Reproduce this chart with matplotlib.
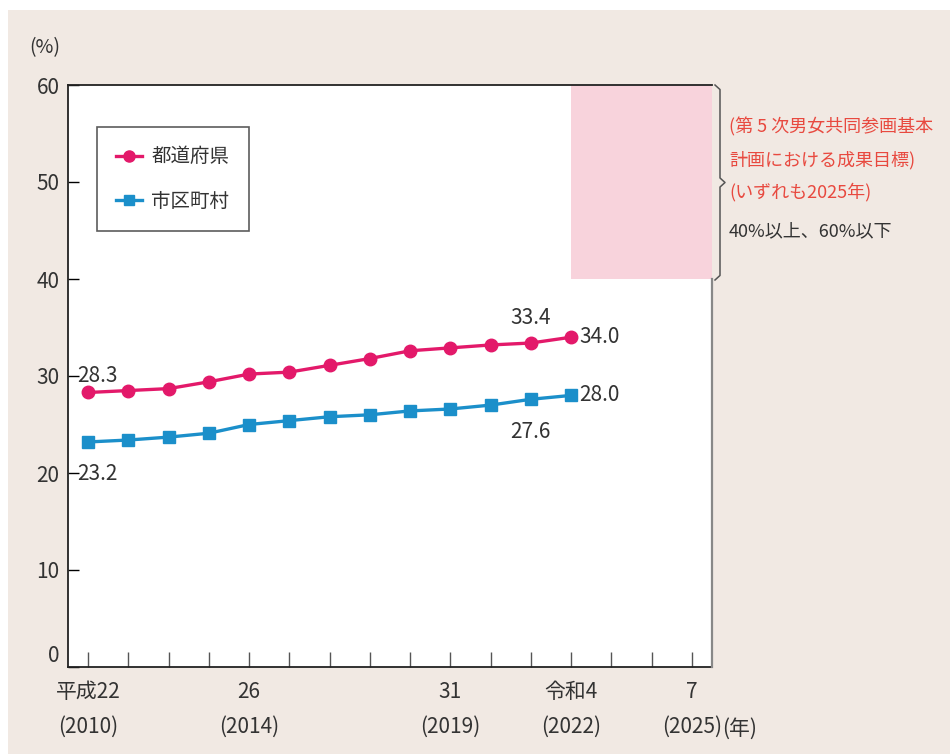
import matplotlib
matplotlib.use("Agg")
import matplotlib.pyplot as plt
from matplotlib.patches import Rectangle
from matplotlib.lines import Line2D

plt.rcParams['font.family'] = ['Noto Sans CJK JP', 'DejaVu Sans']

# data
years = list(range(2010, 2023))
prefectures = [28.3, 28.5, 28.7, 29.4, 30.2, 30.4, 31.1, 31.8, 32.6, 32.9, 33.2, 33.4, 34.0]
municipalities = [23.2, 23.4, 23.7, 24.1, 25.0, 25.4, 25.8, 26.0, 26.4, 26.6, 27.0, 27.6, 28.0]
series_names = ['都道府県', '市区町村']
tick_years = [2010, 2014, 2019, 2022, 2025]
tick_labels = ['平成22\n(2010)', '26\n(2014)', '31\n(2019)', '令和4\n(2022)', '7\n(2025)']
target_low, target_high = 40, 60
target_start = 2022

pink = '#e3196a'
blue = '#1b8fca'
bg = '#f1e9e3'
txt = '#333333'

fig = plt.figure(figsize=(9.5, 7.54), dpi=100)
fig.patch.set_facecolor('white')
fig.patches.append(Rectangle((8 / 950, 0), 1, 1 - 10 / 754, transform=fig.transFigure,
                             facecolor=bg, edgecolor='none', zorder=-10))

ax = fig.add_axes([68 / 950, 87 / 754, 644 / 950, 582 / 754])
ax.set_facecolor('white')
ax.set_xlim(2009.5, 2025.5)
ax.set_ylim(0, 60)

# target band
ax.add_patch(Rectangle((target_start, target_low), 2025.5 - target_start, target_high - target_low,
                       facecolor='#f8d3dc', edgecolor='none', zorder=1))

ax.plot(years, prefectures, color=pink, lw=2.4, marker='o', ms=9, zorder=3)
ax.plot(years, municipalities, color=blue, lw=2.4, marker='s', ms=8, zorder=3)

# value labels
lab = dict(fontsize=15, color=txt)
ax.text(2009.72, prefectures[0] + 1.7, '28.3', ha='left', va='center', **lab)
ax.text(2009.72, municipalities[0] - 3.3, '23.2', ha='left', va='center', **lab)
ax.text(2021, prefectures[-2] + 2.6, '33.4', ha='center', va='center', **lab)
ax.text(2022.2, prefectures[-1], '34.0', ha='left', va='center', **lab)
ax.text(2021, municipalities[-2] - 3.4, '27.6', ha='center', va='center', **lab)
ax.text(2022.2, municipalities[-1], '28.0', ha='left', va='center', **lab)

# spines
for s in ['left', 'bottom', 'top']:
    ax.spines[s].set_color('#222222')
    ax.spines[s].set_linewidth(1.3)
ax.spines['right'].set_visible(False)
ax.plot([1, 1], [0, target_low / 60], transform=ax.transAxes, color='#888888', lw=1.6,
        clip_on=False, zorder=4)

ax.set_yticks(range(0, 61, 10))
ax.tick_params(axis='y', direction='in', length=8, width=1, labelsize=15,
               labelcolor=txt, pad=6)
ylabels = ax.get_yticklabels()
ylabels[0].set_va('bottom')
ax.set_xticks(range(2010, 2026))
ax.set_xticklabels([tick_labels[tick_years.index(y)] if y in tick_years else '' for y in range(2010, 2026)])
ax.tick_params(axis='x', direction='in', length=11, width=1, labelsize=15,
               labelcolor=txt, pad=10, color='#555555')
for t in ax.get_xticklabels():
    t.set_linespacing(1.75)

fig.text(45 / 950, 1 - 48 / 754, '(%)', ha='center', va='center', fontsize=14, color=txt)
fig.text(722 / 950, 1 - 729 / 754, '(年)', ha='left', va='center', fontsize=15, color=txt)

# legend
handles = [Line2D([], [], color=pink, lw=2.4, marker='o', ms=8),
           Line2D([], [], color=blue, lw=2.4, marker='s', ms=7)]
leg = ax.legend(handles, series_names, loc='upper left', bbox_to_anchor=(0.045, 0.928),
                borderaxespad=0, fontsize=14, frameon=True, fancybox=False,
                edgecolor='#333333', handlelength=1.3, handletextpad=0.5,
                borderpad=1.0, labelspacing=1.2, labelcolor=txt)
leg.get_frame().set_linewidth(1.2)

# brace for the target
bx = 715 / 950
y_top = 1 - 85 / 754
y_bot = 1 - 280 / 754
y_mid = (y_top + y_bot) / 2
w = 5 / 950
fig.add_artist(Line2D([bx, bx + w, bx + w, bx + 2 * w, bx + w, bx + w, bx],
                      [y_top, y_top - 0.006, y_mid + 0.006, y_mid, y_mid - 0.006, y_bot + 0.006, y_bot],
                      transform=fig.transFigure, color='#555555', lw=1.1))

red = '#e8493f'
fig.text(729 / 950, 1 - 127 / 754, '(第 5 次男女共同参画基本', ha='left', va='center', fontsize=13, color=red)
fig.text(729 / 950, 1 - 160 / 754, '計画における成果目標)', ha='left', va='center', fontsize=13, color=red)
fig.text(729 / 950, 1 - 192 / 754, '(いずれも2025年)', ha='left', va='center', fontsize=13, color=red)
fig.text(729 / 950, 1 - 231 / 754, '40%以上、60%以下', ha='left', va='center', fontsize=13, color=txt)

fig.savefig('out.png', dpi=100, facecolor=fig.get_facecolor())
